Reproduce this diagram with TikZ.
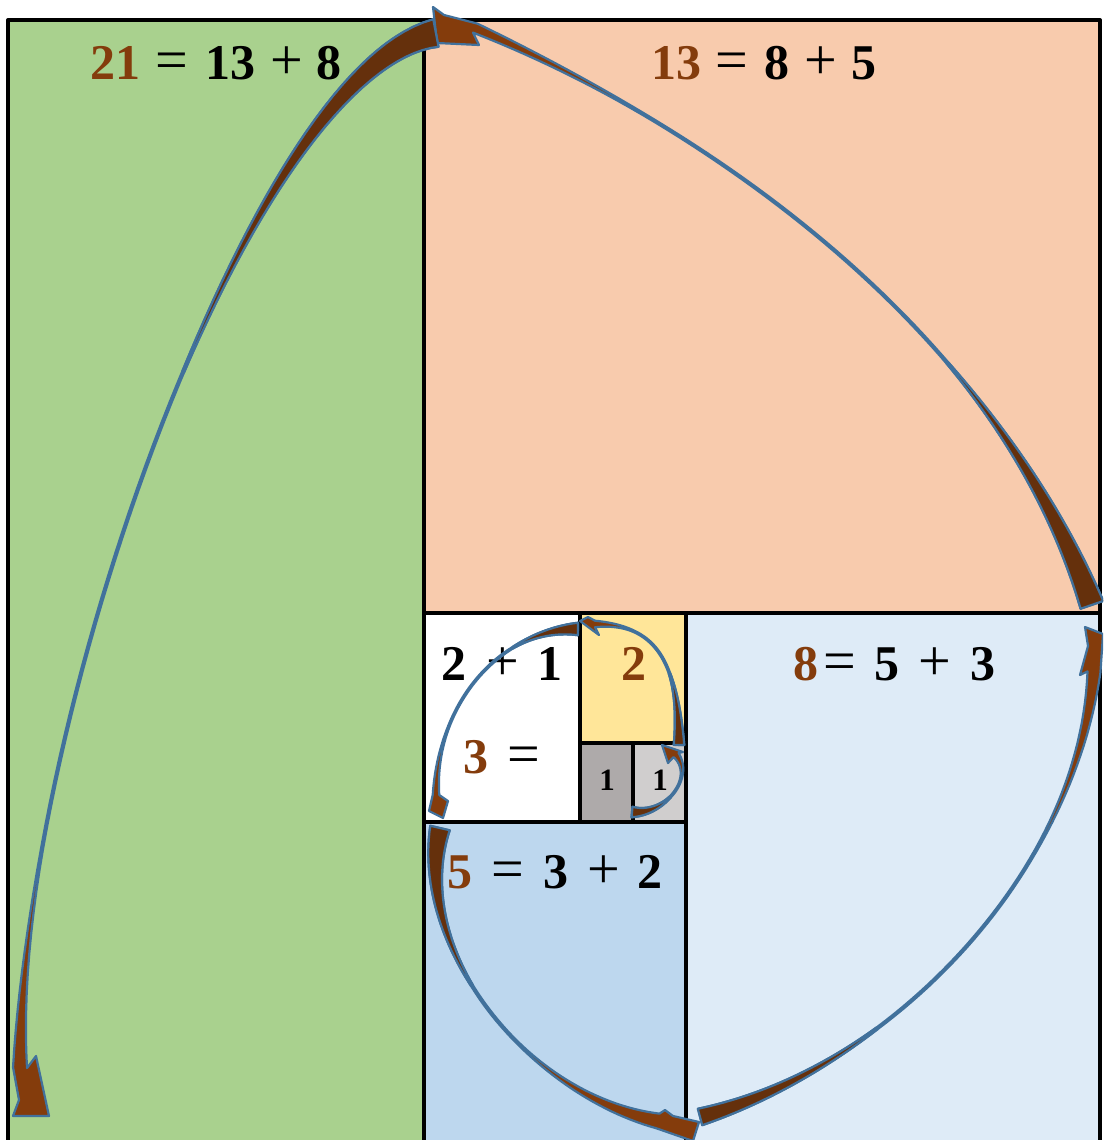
\documentclass[tikz,border=0pt]{standalone}
\usepackage{fontspec}
\setmainfont{Liberation Serif}
\definecolor{cgreen}{HTML}{A9D18E}
\definecolor{corange}{HTML}{F8CBAD}
\definecolor{clblue}{HTML}{DEEBF7}
\definecolor{cblue}{HTML}{BDD7EE}
\definecolor{cyellow}{HTML}{FFE699}
\definecolor{cgray}{HTML}{AEAAAA}
\definecolor{clgray}{HTML}{D0CECE}
\definecolor{brn}{HTML}{843C0C}
\definecolor{arcL}{HTML}{843C0C}
\definecolor{arcD}{HTML}{65300C}
\definecolor{arcB}{HTML}{41719C}
% tapered curved arrow: P0..P3 of centre Bezier, #9 head points (from +n side to -n side)
\newcommand\fibarc[9]{%
\begin{scope}[declare function={
 bx(\t)=(1-\t)*(1-\t)*(1-\t)*(#1)+3*(1-\t)*(1-\t)*\t*(#3)+3*(1-\t)*\t*\t*(#5)+\t*\t*\t*(#7);
 by(\t)=(1-\t)*(1-\t)*(1-\t)*(#2)+3*(1-\t)*(1-\t)*\t*(#4)+3*(1-\t)*\t*\t*(#6)+\t*\t*\t*(#8);
 dx(\t)=3*(1-\t)*(1-\t)*((#3)-(#1))+6*(1-\t)*\t*((#5)-(#3))+3*\t*\t*((#7)-(#5));
 dy(\t)=3*(1-\t)*(1-\t)*((#4)-(#2))+6*(1-\t)*\t*((#6)-(#4))+3*\t*\t*((#8)-(#6));
 dl(\t)=100*veclen(dx(\t)/100,dy(\t)/100);
 fa(\t)=max(0,1-\t/\Ta);
 fb(\t)=max(0,(\t-\Tb)/(1-\Tb));
 ww(\t)=0.5*(\Wt*fa(\t)*(0.4+0.6*fa(\t))+\Wm+\Wh*fb(\t)*fb(\t));
 ox(\t)=bx(\t)-ww(\t)*(dy(\t)/dl(\t));
 oy(\t)=by(\t)+ww(\t)*(dx(\t)/dl(\t));
 ix(\t)=bx(\t)+ww(\t)*(dy(\t)/dl(\t));
 iy(\t)=by(\t)-ww(\t)*(dx(\t)/dl(\t));
}]
\path[arcbody,fill=arcL] plot[domain=0:1,samples=60,variable=\s] ({ox(\s)},{oy(\s)}) -- #9 -- plot[domain=1:0,samples=60,variable=\s] ({ix(\s)},{iy(\s)}) -- cycle;
\path[arcbody,fill=arcD] plot[domain=0:\Ta,samples=30,variable=\s] ({ox(\s)},{oy(\s)}) -- plot[domain=\Ta:0,samples=30,variable=\s] ({ix(\s)},{iy(\s)}) -- cycle;
\end{scope}}
\begin{document}
\begin{tikzpicture}[x=1pt,y=-1pt,line join=round,
  box/.style={draw=black,line width=4pt},
  arcbody/.style={draw=arcB,line width=2.2pt},
  lbl/.style={anchor=base,inner sep=0pt,font=\fontsize{58}{66}\selectfont},
  dig/.style={anchor=base,inner sep=0pt,font=\fontsize{50}{60}\selectfont\bfseries},
  sml/.style={anchor=base,inner sep=0pt,font=\fontsize{31}{36}\selectfont\bfseries}]
\useasboundingbox (0,0) rectangle (1103,1140);
\clip (0,0) rectangle (1103,1140);
% squares
\path[box,fill=cgreen]  (8,20) rectangle (424,1160);
\path[box,fill=corange] (424,20) rectangle (1100,613);
\path[box,fill=clblue]  (686,613) rectangle (1100,1160);
\path[box,fill=cblue]   (424,822) rectangle (686,1160);
\path[box,fill=white]   (424,613) rectangle (580,822);
\path[box,fill=cyellow] (580,613) rectangle (686,743);
\path[box,fill=cgray]   (580,743) rectangle (633,822);
\path[box,fill=clgray]  (633,743) rectangle (686,822);
% labels
\node[dig,text=brn] (a1) at (115,80) {21};
\node[lbl] (a2) at (172,80) {=};
\node[dig] (a3) at (230,80) {13};
\node[lbl] (a4) at (287,80) {+};
\node[dig] (a5) at (329,80) {8};
\node[dig,text=brn] (b1) at (676,80) {13};
\node[lbl] (b2) at (732,80) {=};
\node[dig] (b3) at (777,80) {8};
\node[lbl] (b4) at (821,80) {+};
\node[dig] (b5) at (864,80) {5};
\node[dig,text=brn] (c1) at (806,680) {8};
\node[lbl] (c2) at (840,680) {=};
\node[dig] (c3) at (887,680) {5};
\node[lbl] (c4) at (935,680) {+};
\node[dig] (c5) at (983,680) {3};
\node[dig] (d1) at (454,680) {2};
\node[lbl] (d2) at (503,680) {+};
\node[dig] (d3) at (550,680) {1};
\node[dig,text=brn] (e1) at (634,680) {2};
\node[dig,text=brn] (f1) at (476,773) {3};
\node[lbl] (f2) at (524,773) {=};
\node[sml] (g1) at (607,790) {1};
\node[sml] (g2) at (660,790) {1};
\node[dig,text=brn] (h1) at (460,888) {5};
\node[lbl] (h2) at (508,888) {=};
\node[dig] (h3) at (556,888) {3};
\node[lbl] (h4) at (604,888) {+};
\node[dig] (h5) at (650,888) {2};
% arrows of the spiral
\def\Wt{9}\def\Ta{0.45}\def\Wm{1.5}\def\Wh{5}\def\Tb{0.6}
\fibarc{632}{812}{665}{815}{695}{778}{676}{755}{(683,752) -- (662,745) -- (668,763)}
\def\Wt{9}\def\Ta{0.35}\def\Wm{1.5}\def\Wh{5}\def\Tb{0.7}
\fibarc{679}{745}{679}{660}{654}{624}{595}{624}{(588,617) -- (580,621) -- (599,635)}
\def\Wt{11}\def\Ta{0.3}\def\Wm{1.5}\def\Wh{5}\def\Tb{0.7}
\fibarc{578}{629}{500}{629}{436}{704}{436}{795}{(429,811) -- (443,818) -- (448,801)}
\def\Wt{15}\def\Ta{0.32}\def\Wm{2}\def\Wh{11}\def\Tb{0.65}
\fibarc{700}{1117}{893}{1064}{1076}{875}{1094}{672}{(1103,634) -- (1085,627) -- (1088,646) -- (1080,675)}
\def\Wt{18}\def\Ta{0.42}\def\Wm{2}\def\Wh{13}\def\Tb{0.55}
\fibarc{440}{828}{411}{955}{532}{1096}{658}{1121}{(693,1141) -- (699,1122) -- (673,1116) -- (665,1110)}
\def\Wt{22}\def\Ta{0.33}\def\Wm{2}\def\Wh{8}\def\Tb{0.75}
\fibarc{1092}{605}{995}{336}{729}{139}{475}{28}{(444,15) -- (433,7) -- (437,43) -- (479,45)}
\def\Wt{26}\def\Ta{0.45}\def\Wm{2}\def\Wh{12}\def\Tb{0.8}
\fibarc{436}{33}{250}{70}{20}{720}{20}{1068}{(19,1100) -- (13,1116) -- (49,1116) -- (36,1056)}
\end{tikzpicture}
\end{document}
